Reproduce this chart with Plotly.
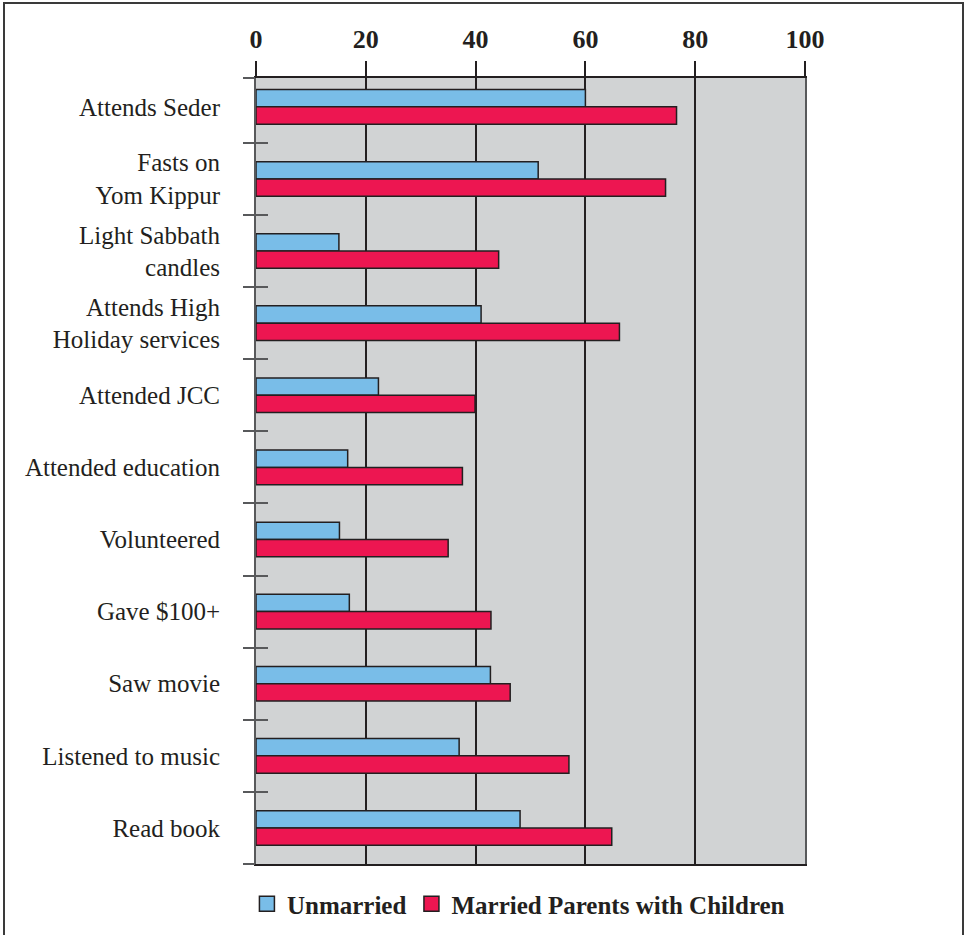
import plotly.graph_objects as go

# Survey items (top to bottom) and share of each group, in percent
categories = [
    "Attends Seder",
    "Fasts on<br>Yom Kippur",
    "Light Sabbath<br>candles",
    "Attends High<br>Holiday services",
    "Attended JCC",
    "Attended education",
    "Volunteered",
    "Gave $100+",
    "Saw movie",
    "Listened to music",
    "Read book",
]
unmarried = [60.0, 51.4, 15.1, 41.0, 22.3, 16.7, 15.2, 17.0, 42.7, 37.0, 48.1]
married_parents = [76.6, 74.6, 44.2, 66.2, 39.9, 37.6, 35.0, 42.8, 46.3, 57.0, 64.8]

x_ticks = [0, 20, 40, 60, 80, 100]
series_names = ["Unmarried", "Married Parents with Children"]

BLUE = "#79bde8"
RED = "#ed1651"
INK = "#231f20"
PANEL = "#d1d3d4"
SERIF = "Liberation Serif, Times New Roman, Times, serif"

W, H = 964, 935
M_L, M_R, M_T, M_B = 256, 159, 78, 71
PW, PH = W - M_L - M_R, H - M_T - M_B

Y_RANGE = [10.5, -0.4]
boundaries = [i + 0.5 for i in range(len(categories))]

fig = go.Figure()

for name, vals, color in [(series_names[0], unmarried, BLUE),
                          (series_names[1], married_parents, RED)]:
    fig.add_trace(go.Bar(
        x=vals, y=categories, orientation="h", name=name,
        marker=dict(color=color, line=dict(color=INK, width=1.5)),
        showlegend=False, hoverinfo="x+y",
    ))

# Legend entries drawn as square swatches
for name, color in [(series_names[0], BLUE), (series_names[1], RED)]:
    fig.add_trace(go.Scatter(
        x=[None], y=[None], mode="markers", name=name,
        marker=dict(symbol="square", size=15, color=color,
                    line=dict(color=INK, width=1.5)),
        showlegend=True,
    ))

# Boundary ticks: outside part
fig.add_trace(go.Scatter(x=[None], y=[None], yaxis="y2", showlegend=False))
# Boundary ticks: inside part
fig.add_trace(go.Scatter(x=[None], y=[None], yaxis="y3", showlegend=False))

fig.update_layout(
    width=W, height=H,
    margin=dict(l=M_L, r=M_R, t=M_T, b=M_B, autoexpand=False),
    paper_bgcolor="white",
    plot_bgcolor=PANEL,
    barmode="group",
    bargap=0.52,
    bargroupgap=0,
    font=dict(family=SERIF, color=INK),
    xaxis=dict(
        side="top", range=[0, 100], tickvals=x_ticks,
        ticks="outside", ticklen=15, tickwidth=1.5, tickcolor=INK,
        tickfont=dict(family=SERIF, size=26, weight="bold", color=INK),
        ticklabelstandoff=3,
        showgrid=True, gridcolor=INK, gridwidth=1.5,
        showline=True, linecolor=INK, linewidth=1.5, mirror=True,
        zeroline=False, fixedrange=True,
    ),
    yaxis=dict(
        type="category", categoryorder="array", categoryarray=categories,
        range=Y_RANGE, ticks="", showgrid=False, zeroline=False,
        showline=True, linecolor="#58595b", linewidth=2, mirror=True,
        tickfont=dict(family=SERIF, size=25, color=INK),
        ticklabelstandoff=29, fixedrange=True,
    ),
    yaxis2=dict(
        overlaying="y", anchor="x", side="left", range=Y_RANGE,
        tickvals=[Y_RANGE[1]] + boundaries, ticks="outside", ticklen=12,
        tickwidth=2, tickcolor="#58595b", showticklabels=False,
        showgrid=False, zeroline=False, showline=False, fixedrange=True,
    ),
    yaxis3=dict(
        overlaying="y", anchor="x", side="left", range=Y_RANGE,
        tickvals=boundaries[:-1], ticks="inside", ticklen=12,
        tickwidth=2, tickcolor="#58595b", showticklabels=False,
        showgrid=False, zeroline=False, showline=False, fixedrange=True,
    ),
    legend=dict(
        orientation="h", x=0.478, xanchor="center",
        y=-(904 - (H - M_B)) / PH, yanchor="middle",
        font=dict(family=SERIF, size=25, weight="bold", color=INK),
        bgcolor="rgba(0,0,0,0)", itemclick=False, itemdoubleclick=False,
    ),
    shapes=[dict(
        type="rect", xref="paper", yref="paper",
        x0=(4 - M_L) / PW, x1=(963 - M_L) / PW,
        y0=((H - M_B) - 945) / PH, y1=((H - M_B) - 3) / PH,
        line=dict(color="#3a3a3a", width=2), fillcolor="rgba(0,0,0,0)",
        layer="above",
    )],
)

fig.write_html("out.html")
